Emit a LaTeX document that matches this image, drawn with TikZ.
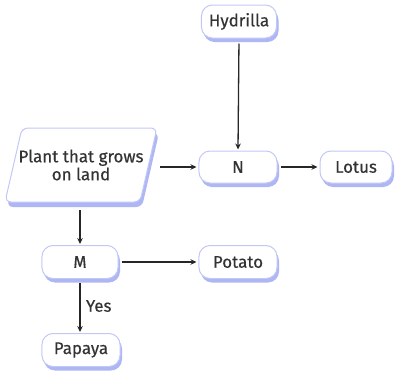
\documentclass[tikz,border=0pt]{standalone}
\usepackage{fontspec}
\setmainfont{Fira Sans}
\newfontfamily\boxfont[FakeBold=0.5]{Fira Sans}
\usetikzlibrary{arrows.meta,shadows}
\definecolor{bordercol}{HTML}{C2C8F6}
\definecolor{shadowcol}{HTML}{AEB6F3}
\definecolor{txtcol}{HTML}{333333}
\definecolor{linecol}{HTML}{262626}
\begin{document}
\begin{tikzpicture}[x=1bp,y=-1bp,
  box/.style={draw=bordercol, line width=1bp, fill=white, rounded corners=11bp,
    minimum height=33bp, text=txtcol, font=\boxfont\fontsize{17}{20}\selectfont, inner sep=0pt,
    drop shadow={shadow xshift=2bp, shadow yshift=-4bp, fill=shadowcol, opacity=1}},
  conn/.style={draw=linecol, line width=1.3bp, -{Stealth[length=6bp,width=5.5bp]}},
  lbl/.style={text=txtcol, font=\boxfont\fontsize{17}{20}\selectfont}]
\useasboundingbox (0,0) rectangle (398,372);
% parallelogram
\fill[shadowcol, rounded corners=6bp] (24,133) -- (159,133) -- (142,207) -- (7,207) -- cycle;
\filldraw[draw=bordercol, fill=white, line width=1bp, rounded corners=6bp] (22,128) -- (157,128) -- (140,202) -- (5,202) -- cycle;
\node[lbl, align=center, minimum width=152bp, minimum height=74bp, inner sep=0pt] (plant) at (81,165) {Plant that grows\\[-2bp]on land};
\node[box, minimum width=75bp] (hyd) at (239,21.5) {Hydrilla};
\node[box, minimum width=78bp, minimum height=32bp] (N) at (238,167) {N};
\node[box, minimum width=72bp, minimum height=32bp] (lotus) at (356,167) {Lotus};
\node[box, minimum width=76bp] (M) at (80,262) {M};
\node[box, minimum width=78bp] (potato) at (238,262) {Potato};
\node[box, minimum width=78bp] (papaya) at (81,350) {Papaya};
\draw[conn, shorten <=5bp, shorten >=1bp] (hyd.south) -- (N.north);
\draw[conn, shorten <=3bp, shorten >=2bp] (plant.east |- N.west) -- (N.west);
\draw[conn, shorten <=3bp, shorten >=2bp] (N.east) -- (lotus.west);
\draw[conn, shorten <=8bp, shorten >=1bp] (plant.south -| M.north) -- (M.north);
\draw[conn, shorten <=3bp, shorten >=2bp] (M.east) -- (potato.west);
\draw[conn, shorten <=4bp, shorten >=1bp] (M.south) -- node[lbl, right, xshift=2bp] {Yes} (M.south |- papaya.north);
\end{tikzpicture}
\end{document}
